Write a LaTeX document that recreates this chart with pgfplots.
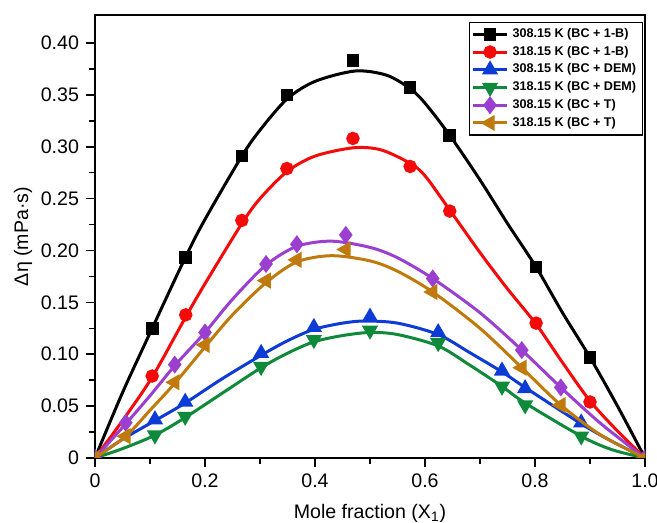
\documentclass[border=0pt]{standalone}
\usepackage{pgfplots}
\pgfplotsset{compat=1.18}
\usepackage{fontspec}
\setmainfont{Liberation Sans}

\definecolor{cblk}{RGB}{0,0,0}
\definecolor{cred}{RGB}{245,10,10}
\definecolor{cblu}{RGB}{13,59,214}
\definecolor{cgrn}{RGB}{14,138,58}
\definecolor{cpur}{RGB}{155,63,208}
\definecolor{corg}{RGB}{192,122,12}

\begin{document}
\begin{tikzpicture}
\begin{axis}[
    scale only axis,
    width=275pt, height=221.5pt,
    xmin=0, xmax=1, ymin=0, ymax=0.427,
    xtick={0,0.2,0.4,0.6,0.8,1.0},
    xticklabels={0,0.2,0.4,0.6,0.8,1.0},
    ytick={0,0.05,0.10,0.15,0.20,0.25,0.30,0.35,0.40},
    yticklabels={0,0.05,0.10,0.15,0.20,0.25,0.30,0.35,0.40},
    minor tick num=1,
    tick pos=left, tick align=outside,
    major tick length=4.5pt, minor tick length=3pt,
    tick style={line width=0.8pt, black},
    axis line style={line width=1pt},
    ticklabel style={font=\fontsize{9.8}{11}\selectfont},
    label style={font=\fontsize{9.8}{11}\selectfont, inner sep=0pt},
    xlabel={Mole fraction (X\textsubscript{1})},
    ylabel={Δη (mPa·s)},
    ylabel style={at={(-36pt,0.5)}, anchor=center},
    xlabel style={at={(0.5,-27.5pt)}, anchor=center},
    clip marker paths=true,
    every axis plot/.append style={line width=1.5pt},
    legend style={at={(0.996,0.985)}, anchor=north east,
        font=\bfseries\fontsize{6.3}{7}\selectfont,
        draw=black, line width=0.6pt, inner sep=1pt, row sep=-1.2pt,
        cells={anchor=west}},
]
\addlegendimage{cblk, line width=1.5pt, mark=square*, mark size=2.4pt}
\addlegendentry{308.15 K (BC + 1-B)}
\addlegendimage{cred, line width=1.5pt, mark=*, mark size=2.6pt}
\addlegendentry{318.15 K (BC + 1-B)}
\addlegendimage{cblu, line width=1.5pt, mark=triangle*, mark size=3.2pt}
\addlegendentry{308.15 K (BC + DEM)}
\addlegendimage{cgrn, line width=1.5pt, mark=triangle*, mark options={rotate=180}, mark size=3.2pt}
\addlegendentry{318.15 K (BC + DEM)}
\addlegendimage{cpur, line width=1.5pt, mark=diamond*, mark size=3.3pt}
\addlegendentry{308.15 K (BC + T)}
\addlegendimage{corg, line width=1.5pt, mark=triangle*, mark options={rotate=90}, mark size=3.2pt}
\addlegendentry{318.15 K (BC + T)}

% black, 308.15 K (BC + 1-B)
\addplot[cblk, smooth, no markers, forget plot] coordinates {
 (0,0) (0.05,0.063) (0.104,0.125) (0.164,0.193) (0.2,0.23) (0.267,0.291)
 (0.3,0.316) (0.349,0.346) (0.4,0.363) (0.473,0.373) (0.53,0.369) (0.573,0.356)
 (0.6,0.342) (0.645,0.311) (0.7,0.268) (0.75,0.226) (0.802,0.184) (0.85,0.14)
 (0.9,0.097) (0.95,0.05) (1,0)};
\addplot[cblk, only marks, mark=square*, mark size=2.4pt, forget plot] coordinates {
 (0,0) (0.104,0.125) (0.164,0.193) (0.267,0.291) (0.349,0.350) (0.469,0.383)
 (0.573,0.357) (0.645,0.311) (0.802,0.184) (0.9,0.097) (1,0)};

% red, 318.15 K (BC + 1-B)
\addplot[cred, smooth, no markers, forget plot] coordinates {
 (0,0) (0.05,0.036) (0.104,0.078) (0.165,0.136) (0.2,0.168) (0.267,0.226)
 (0.3,0.25) (0.349,0.276) (0.4,0.291) (0.47,0.299) (0.52,0.297) (0.573,0.284)
 (0.6,0.272) (0.645,0.239) (0.7,0.198) (0.75,0.163) (0.802,0.129) (0.85,0.092)
 (0.9,0.055) (0.95,0.026) (1,0)};
\addplot[cred, only marks, mark=*, mark size=2.6pt, forget plot] coordinates {
 (0,0) (0.104,0.079) (0.165,0.138) (0.267,0.229) (0.349,0.279) (0.469,0.308)
 (0.573,0.281) (0.645,0.238) (0.802,0.130) (0.9,0.054) (1,0)};

% blue, 308.15 K (BC + DEM)
\addplot[cblu, smooth, no markers, forget plot] coordinates {
 (0,0) (0.05,0.018) (0.109,0.036) (0.164,0.053) (0.23,0.076) (0.302,0.099)
 (0.35,0.113) (0.398,0.124) (0.45,0.13) (0.49,0.132) (0.55,0.13) (0.624,0.119)
 (0.68,0.102) (0.74,0.083) (0.782,0.068) (0.884,0.033) (0.94,0.016) (1,0)};
\addplot[cblu, only marks, mark=triangle*, mark size=3.2pt, forget plot] coordinates {
 (0,0) (0.109,0.037) (0.164,0.054) (0.302,0.101) (0.398,0.126) (0.5,0.136)
 (0.624,0.121) (0.74,0.084) (0.782,0.067) (0.884,0.034) (1,0)};

% green, 318.15 K (BC + DEM)
\addplot[cgrn, smooth, no markers, forget plot] coordinates {
 (0,0) (0.05,0.009) (0.109,0.022) (0.164,0.039) (0.23,0.062) (0.302,0.087)
 (0.35,0.101) (0.398,0.112) (0.45,0.118) (0.5,0.121) (0.55,0.119) (0.624,0.108)
 (0.68,0.09) (0.74,0.069) (0.782,0.053) (0.884,0.021) (0.94,0.008) (1,0)};
\addplot[cgrn, only marks, mark=triangle*, mark options={rotate=180}, mark size=3.2pt, forget plot] coordinates {
 (0,0) (0.109,0.022) (0.164,0.040) (0.302,0.088) (0.398,0.114) (0.5,0.123)
 (0.624,0.111) (0.74,0.069) (0.782,0.051) (0.884,0.021) (1,0)};

% purple, 308.15 K (BC + T)
\addplot[cpur, smooth, no markers, forget plot] coordinates {
 (0,0) (0.056,0.033) (0.1,0.06) (0.145,0.089) (0.2,0.121) (0.25,0.153)
 (0.311,0.186) (0.367,0.204) (0.43,0.209) (0.5,0.203) (0.55,0.193) (0.614,0.173)
 (0.7,0.14) (0.776,0.104) (0.847,0.068) (0.92,0.033) (1,0)};
\addplot[cpur, only marks, mark=diamond*, mark size=3.3pt, forget plot] coordinates {
 (0,0) (0.056,0.034) (0.145,0.090) (0.2,0.121) (0.311,0.187) (0.367,0.206)
 (0.456,0.215) (0.614,0.173) (0.776,0.104) (0.847,0.068) (1,0)};

% orange, 318.15 K (BC + T)
\addplot[corg, smooth, no markers, forget plot] coordinates {
 (0,0) (0.056,0.021) (0.1,0.046) (0.145,0.072) (0.2,0.107) (0.25,0.138)
 (0.311,0.169) (0.367,0.189) (0.43,0.195) (0.5,0.19) (0.55,0.18) (0.614,0.16)
 (0.7,0.125) (0.776,0.087) (0.847,0.051) (0.92,0.022) (1,0)};
\addplot[corg, only marks, mark=triangle*, mark options={rotate=90}, mark size=3.2pt, forget plot] coordinates {
 (0,0) (0.056,0.021) (0.145,0.073) (0.2,0.109) (0.311,0.171) (0.367,0.191)
 (0.456,0.201) (0.614,0.160) (0.776,0.087) (0.847,0.051) (1,0)};
\end{axis}
\pgfresetboundingbox
\useasboundingbox ([shift={(-47.5pt,-32.5pt)}]current axis.south west) rectangle ([shift={(6pt,7.5pt)}]current axis.north east);
\end{tikzpicture}
\end{document}
